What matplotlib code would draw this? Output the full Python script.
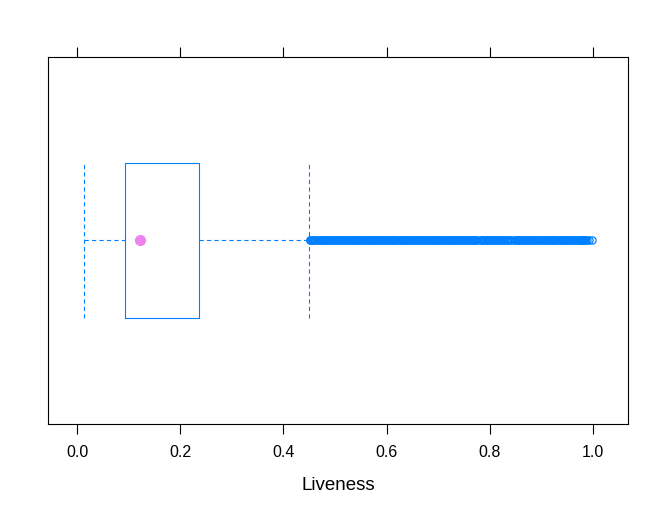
import matplotlib

matplotlib.use("Agg")
import matplotlib.pyplot as plt

plt.rcParams["font.family"] = ["Liberation Sans", "DejaVu Sans"]

BLUE = "#0080ff"
DOT = "#ee82ee"

# five-number summary of Liveness
whisker_lo = 0.0136
q1 = 0.093
median = 0.122
q3 = 0.2364
whisker_hi = 0.4496

outliers = [
    0.451, 0.455, 0.460, 0.465, 0.470, 0.475, 0.480, 0.485, 0.490, 0.495,
    0.500, 0.505, 0.510, 0.515, 0.520, 0.525, 0.530, 0.535, 0.540, 0.545,
    0.550, 0.555, 0.560, 0.565, 0.570, 0.575, 0.580, 0.585, 0.590, 0.595,
    0.600, 0.605, 0.610, 0.615, 0.620, 0.625, 0.630, 0.635, 0.640, 0.645,
    0.650, 0.655, 0.660, 0.665, 0.670, 0.675, 0.680, 0.685, 0.690, 0.695,
    0.700, 0.705, 0.710, 0.715, 0.720, 0.725, 0.730, 0.735, 0.740, 0.745,
    0.750, 0.755, 0.760, 0.765, 0.770, 0.776, 0.782, 0.787, 0.792, 0.797,
    0.802, 0.807, 0.812, 0.817, 0.822, 0.828, 0.834, 0.840, 0.846, 0.852,
    0.857, 0.862, 0.867, 0.872, 0.877, 0.882, 0.888, 0.894, 0.900, 0.905,
    0.910, 0.915, 0.920, 0.925, 0.930, 0.935, 0.940, 0.945, 0.950, 0.955,
    0.960, 0.965, 0.970, 0.975, 0.978, 0.981, 0.984,
]
# the few sparse ones at the right end, still visible as rings
outliers_end = [0.988, 0.993, 0.998]

ticks = [0.0, 0.2, 0.4, 0.6, 0.8, 1.0]
tick_labels = ["0.0", "0.2", "0.4", "0.6", "0.8", "1.0"]


def main() -> None:
    fig = plt.figure(figsize=(6.67, 5.21), dpi=100)
    ax = fig.add_axes([0.072, 0.1862, 0.8696, 0.7044])

    y = 1.0
    h = 0.252
    dash = (0, (3.84, 2.88))
    lw = 0.8

    # box
    ax.plot([q1, q3, q3, q1, q1], [y - h, y - h, y + h, y + h, y - h],
            color=BLUE, lw=lw, solid_joinstyle="miter")
    # whiskers
    ax.plot([whisker_lo, q1], [y, y], color=BLUE, lw=lw, linestyle=dash)
    ax.plot([q3, whisker_hi], [y, y], color=BLUE, lw=lw, linestyle=dash)
    ax.plot([whisker_lo, whisker_lo], [y - h, y + h], color=BLUE, lw=lw, linestyle=dash)
    ax.plot([whisker_hi, whisker_hi], [y - h, y + h], color=BLUE, lw=lw, linestyle=dash)
    # outliers (dense band)
    ax.plot(outliers, [y] * len(outliers), linestyle="none", marker="o",
            markersize=4.6, markerfacecolor="none", markeredgecolor=BLUE,
            markeredgewidth=1.8)
    ax.plot(outliers_end, [y] * len(outliers_end), linestyle="none", marker="o",
            markersize=5.2, markerfacecolor="none", markeredgecolor=BLUE,
            markeredgewidth=0.9)
    # median dot
    ax.plot([median], [y], linestyle="none", marker="o", markersize=7,
            color=DOT)

    ax.set_xlim(-0.0562, 1.0678)
    ax.set_ylim(0.4, 1.6)
    ax.set_yticks([])
    ax.set_xticks(ticks)
    ax.set_xticklabels(tick_labels)
    ax.tick_params(axis="x", which="both", direction="out", length=7.2,
                   width=0.8, pad=8, labelsize=11.5, top=True, bottom=True)
    for s in ax.spines.values():
        s.set_linewidth(0.8)
    ax.set_xlabel("Liveness", fontsize=13.5, labelpad=12)

    fig.savefig("out.png", dpi=100)
    plt.close(fig)


if __name__ == "__main__":
    main()
